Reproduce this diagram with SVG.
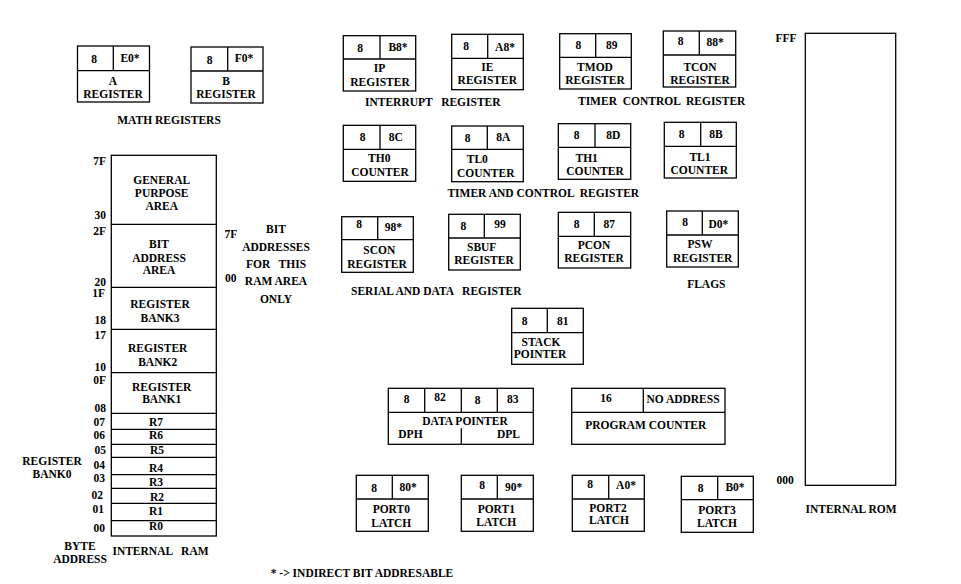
<svg xmlns="http://www.w3.org/2000/svg" width="961" height="584" viewBox="0 0 961 584">
<style>
rect,line{fill:none;stroke:#000;stroke-width:1.3}
text{font-family:'Liberation Serif','DejaVu Serif',serif;font-weight:700;font-size:11.5px;fill:#000;text-anchor:middle}
.s{text-anchor:start}
.e{text-anchor:end}
</style>
<rect x="0" y="0" width="961" height="584" style="fill:#fff;stroke:none"/>

<g id="a-register">
<rect x="77.5" y="46" width="72" height="56"/><line x1="77.5" y1="70.7" x2="149.5" y2="70.7"/><line x1="113.3" y1="46" x2="113.3" y2="70.7"/>
<text x="94" y="63">8</text><text x="130" y="61.5">E0*</text><text x="113" y="85">A</text><text x="113" y="97.5">REGISTER</text>
</g>
<g id="b-register">
<rect x="191" y="47" width="72" height="56"/><line x1="191" y1="71" x2="263" y2="71"/><line x1="227.7" y1="47" x2="227.7" y2="71"/>
<text x="209.5" y="63.5">8</text><text x="244" y="62">F0*</text><text x="226" y="85">B</text><text x="226" y="97.5">REGISTER</text>
</g>
<text x="169" y="124">MATH REGISTERS</text>

<g id="ip-register">
<rect x="343.3" y="35.7" width="72.4" height="55.3"/><line x1="343.3" y1="59" x2="415.7" y2="59"/><line x1="380" y1="35.7" x2="380" y2="59"/>
<text x="360" y="51.7">8</text><text x="398" y="50.7">B8*</text><text x="379.5" y="71.7">IP</text><text x="380" y="85.7">REGISTER</text>
</g>
<g id="ie-register">
<rect x="451.7" y="34.3" width="71.6" height="55.4"/><line x1="451.7" y1="58.3" x2="523.3" y2="58.3"/><line x1="487.7" y1="34.3" x2="487.7" y2="58.3"/>
<text x="466" y="50">8</text><text x="505" y="50.7">A8*</text><text x="487.3" y="70.7">IE</text><text x="487.3" y="84">REGISTER</text>
</g>
<g id="tmod-register">
<rect x="559.7" y="33.7" width="71.6" height="55.3"/><line x1="559.7" y1="57.3" x2="631.3" y2="57.3"/><line x1="595.7" y1="33.7" x2="595.7" y2="57.3"/>
<text x="578.3" y="49">8</text><text x="611.7" y="49">89</text><text x="595" y="70.7">TMOD</text><text x="595" y="83.7">REGISTER</text>
</g>
<g id="tcon-register">
<rect x="663.3" y="31" width="72.4" height="56"/><line x1="663.3" y1="55" x2="735.7" y2="55"/><line x1="699.3" y1="31" x2="699.3" y2="55"/>
<text x="680.7" y="44.5">8</text><text x="715" y="45.5">88*</text><text x="700" y="70.7">TCON</text><text x="700" y="83.7">REGISTER</text>
</g>
<text x="432.8" y="106.3" xml:space="preserve">INTERRUPT   REGISTER</text>
<text x="661.7" y="105" xml:space="preserve">TIMER  CONTROL  REGISTER</text>

<g id="th0-counter">
<rect x="343.3" y="125.3" width="72.4" height="56"/><line x1="343.3" y1="149.3" x2="415.7" y2="149.3"/><line x1="380" y1="125.3" x2="380" y2="149.3"/>
<text x="362.7" y="141">8</text><text x="395.7" y="141">8C</text><text x="379.3" y="161.7">TH0</text><text x="380" y="176">COUNTER</text>
</g>
<g id="tl0-counter">
<rect x="451.7" y="126" width="71.6" height="55.7"/><line x1="451.7" y1="149.3" x2="523.3" y2="149.3"/><line x1="487.3" y1="126" x2="487.3" y2="149.3"/>
<text x="467.7" y="142.3">8</text><text x="503.3" y="141">8A</text><text x="477.3" y="163.3">TL0</text><text x="485.7" y="177.3">COUNTER</text>
</g>
<g id="th1-counter">
<rect x="558.3" y="123.7" width="72.4" height="55.6"/><line x1="558.3" y1="147.3" x2="630.7" y2="147.3"/><line x1="595" y1="123.7" x2="595" y2="147.3"/>
<text x="576.7" y="139">8</text><text x="613.3" y="139">8D</text><text x="586.7" y="161.7">TH1</text><text x="595" y="175">COUNTER</text>
</g>
<g id="tl1-counter">
<rect x="664.3" y="122.3" width="72" height="55.7"/><line x1="664.3" y1="146.3" x2="736.3" y2="146.3"/><line x1="700.7" y1="122.3" x2="700.7" y2="146.3"/>
<text x="681.7" y="138">8</text><text x="716" y="138">8B</text><text x="700" y="160.7">TL1</text><text x="699.3" y="174">COUNTER</text>
</g>
<text x="543.3" y="197.3" xml:space="preserve">TIMER AND CONTROL  REGISTER</text>

<g id="scon-register">
<rect x="341.7" y="216.7" width="71.6" height="55.6"/><line x1="341.7" y1="239.7" x2="413.3" y2="239.7"/><line x1="377.7" y1="216.7" x2="377.7" y2="239.7"/>
<text x="359" y="228.3">8</text><text x="393.3" y="231">98*</text><text x="379.3" y="254.3">SCON</text><text x="377" y="267.7">REGISTER</text>
</g>
<g id="sbuf-register">
<rect x="448.7" y="214.3" width="71.6" height="55.7"/><line x1="448.7" y1="238" x2="520.3" y2="238"/><line x1="484.3" y1="214.3" x2="484.3" y2="238"/>
<text x="463.3" y="230">8</text><text x="500" y="227.7">99</text><text x="481.7" y="251">SBUF</text><text x="484" y="264.3">REGISTER</text>
</g>
<g id="pcon-register">
<rect x="558.3" y="212.3" width="72.4" height="55.7"/><line x1="558.3" y1="236.3" x2="630.7" y2="236.3"/><line x1="594.3" y1="212.3" x2="594.3" y2="236.3"/>
<text x="576.7" y="228.3">8</text><text x="609.3" y="228.3">87</text><text x="594" y="249.3">PCON</text><text x="594" y="262.3">REGISTER</text>
</g>
<g id="psw-register">
<rect x="666.7" y="211" width="71.6" height="56"/><line x1="666.7" y1="235" x2="738.3" y2="235"/><line x1="702.3" y1="211" x2="702.3" y2="235"/>
<text x="685" y="225.7">8</text><text x="718.3" y="228.3">D0*</text><text x="700" y="248.3">PSW</text><text x="702.7" y="261.7">REGISTER</text>
</g>
<text x="436.3" y="295" xml:space="preserve">SERIAL AND DATA   REGISTER</text>
<text x="706.3" y="288.3">FLAGS</text>

<g id="stack-pointer">
<rect x="511.7" y="308.3" width="71.6" height="56"/><line x1="511.7" y1="332.7" x2="583.3" y2="332.7"/><line x1="547.3" y1="308.3" x2="547.3" y2="332.7"/>
<text x="524.7" y="325">8</text><text x="562.7" y="325">81</text><text x="541" y="345.7">STACK</text><text x="540" y="358">POINTER</text>
</g>

<g id="data-pointer">
<rect x="388.3" y="388.3" width="145" height="56"/><line x1="388.3" y1="412.3" x2="533.3" y2="412.3"/>
<line x1="424.7" y1="388.3" x2="424.7" y2="412.3"/><line x1="461.3" y1="388.3" x2="461.3" y2="412.3"/><line x1="497.3" y1="388.3" x2="497.3" y2="412.3"/>
<line x1="461.3" y1="428.3" x2="461.3" y2="444.3"/>
<text x="406.7" y="403.3">8</text><text x="440" y="401">82</text><text x="477.7" y="404.3">8</text><text x="512.7" y="403.3">83</text>
<text x="465" y="425">DATA POINTER</text><text class="s" x="398.3" y="438.3">DPH</text><text class="e" x="520" y="438.3">DPL</text>
</g>
<g id="program-counter">
<rect x="571.7" y="388.3" width="153.3" height="56"/><line x1="571.7" y1="412.3" x2="725" y2="412.3"/><line x1="643.3" y1="388.3" x2="643.3" y2="412.3"/>
<text x="606" y="402.3">16</text><text x="683" y="403.3">NO ADDRESS</text><text x="645.8" y="429.3">PROGRAM COUNTER</text>
</g>

<g id="port0-latch">
<rect x="356.3" y="475.3" width="72" height="56"/><line x1="356.3" y1="499" x2="428.3" y2="499"/><line x1="392.3" y1="475.3" x2="392.3" y2="499"/>
<text x="374" y="491.7">8</text><text x="408" y="491">80*</text><text x="391.3" y="513.3">PORT0</text><text x="391.3" y="526.7">LATCH</text>
</g>
<g id="port1-latch">
<rect x="461.3" y="475.3" width="72" height="56"/><line x1="461.3" y1="499" x2="533.3" y2="499"/><line x1="497.3" y1="475.3" x2="497.3" y2="499"/>
<text x="482" y="489">8</text><text x="513.7" y="491">90*</text><text x="496.3" y="512.7">PORT1</text><text x="496.3" y="526">LATCH</text>
</g>
<g id="port2-latch">
<rect x="572.3" y="475.3" width="72" height="56"/><line x1="572.3" y1="499" x2="644.3" y2="499"/><line x1="608.7" y1="475.3" x2="608.7" y2="499"/>
<text x="590" y="488.3">8</text><text x="626" y="489">A0*</text><text x="608" y="511.7">PORT2</text><text x="609" y="524.3">LATCH</text>
</g>
<g id="port3-latch">
<rect x="681.3" y="476.3" width="72" height="56"/><line x1="681.3" y1="499.7" x2="753.3" y2="499.7"/><line x1="717.7" y1="476.3" x2="717.7" y2="499.7"/>
<text x="700.7" y="491.7">8</text><text x="735" y="491">B0*</text><text x="717" y="513.7">PORT3</text><text x="717" y="526.7">LATCH</text>
</g>

<g id="internal-ram">
<rect x="111.3" y="155.3" width="105" height="380.7"/>
<line x1="111.3" y1="224.3" x2="216.3" y2="224.3"/><line x1="111.3" y1="287.3" x2="216.3" y2="287.3"/>
<line x1="111.3" y1="329.3" x2="216.3" y2="329.3"/><line x1="111.3" y1="372.7" x2="216.3" y2="372.7"/>
<line x1="111.3" y1="413.3" x2="216.3" y2="413.3"/><line x1="111.3" y1="429.3" x2="216.3" y2="429.3"/>
<line x1="111.3" y1="444.3" x2="216.3" y2="444.3"/><line x1="111.3" y1="457.3" x2="216.3" y2="457.3"/>
<line x1="111.3" y1="474.7" x2="216.3" y2="474.7"/><line x1="111.3" y1="488.3" x2="216.3" y2="488.3"/>
<line x1="111.3" y1="503.3" x2="216.3" y2="503.3"/><line x1="111.3" y1="520.7" x2="216.3" y2="520.7"/>
<text x="161.7" y="184.3">GENERAL</text><text x="161.7" y="197.3">PURPOSE</text><text x="161.7" y="210">AREA</text>
<text x="159" y="248.3">BIT</text><text x="159" y="261.7">ADDRESS</text><text x="159" y="274.3">AREA</text>
<text x="160" y="308.3">REGISTER</text><text x="160" y="321.7">BANK3</text>
<text x="157.7" y="352.3">REGISTER</text><text x="157.7" y="365.7">BANK2</text>
<text x="161.7" y="390.7">REGISTER</text><text x="161.7" y="403.3">BANK1</text>
<text x="156" y="425.7">R7</text><text x="156" y="439.3">R6</text><text x="157" y="454.3">R5</text><text x="156" y="472.3">R4</text>
<text x="156" y="486">R3</text><text x="157" y="501">R2</text><text x="156" y="515.3">R1</text><text x="156" y="530">R0</text>
<g class="addr">
<text class="e" x="106" y="165">7F</text><text class="e" x="106" y="219">30</text><text class="e" x="106" y="235">2F</text>
<text class="e" x="106" y="285.7">20</text><text class="e" x="105" y="296.7">1F</text><text class="e" x="106" y="324">18</text>
<text class="e" x="106" y="339">17</text><text class="e" x="106" y="371">10</text><text class="e" x="106" y="384.3">0F</text>
<text class="e" x="106" y="411.5">08</text><text class="e" x="105" y="425.7">07</text><text class="e" x="105" y="439.3">06</text>
<text class="e" x="106" y="454.3">05</text><text class="e" x="105" y="469">04</text><text class="e" x="105" y="482.3">03</text>
<text class="e" x="103" y="499">02</text><text class="e" x="104" y="512.7">01</text><text class="e" x="105" y="532">00</text>
</g>
</g>
<text x="52" y="465.3">REGISTER</text><text x="52" y="478.3">BANK0</text>
<text x="80" y="550">BYTE</text><text x="80" y="563.3">ADDRESS</text>
<text x="160.5" y="555" xml:space="preserve">INTERNAL   RAM</text>

<text x="230.8" y="237.7">7F</text><text x="230.8" y="281.7">00</text>
<text x="276" y="233.3">BIT</text><text x="276" y="251">ADDRESSES</text>
<text x="276" y="267.7" xml:space="preserve">FOR   THIS</text><text x="276" y="285">RAM AREA</text><text x="276" y="303">ONLY</text>

<g id="internal-rom">
<rect x="805.3" y="33.3" width="90.4" height="452"/>
<text x="786" y="42.3">FFF</text><text x="785" y="484.3">000</text>
<text x="851" y="513.3">INTERNAL ROM</text>
</g>

<text x="362" y="577.3">* -&gt; INDIRECT BIT ADDRESABLE</text>
<g id="connectors"/>
</svg>
